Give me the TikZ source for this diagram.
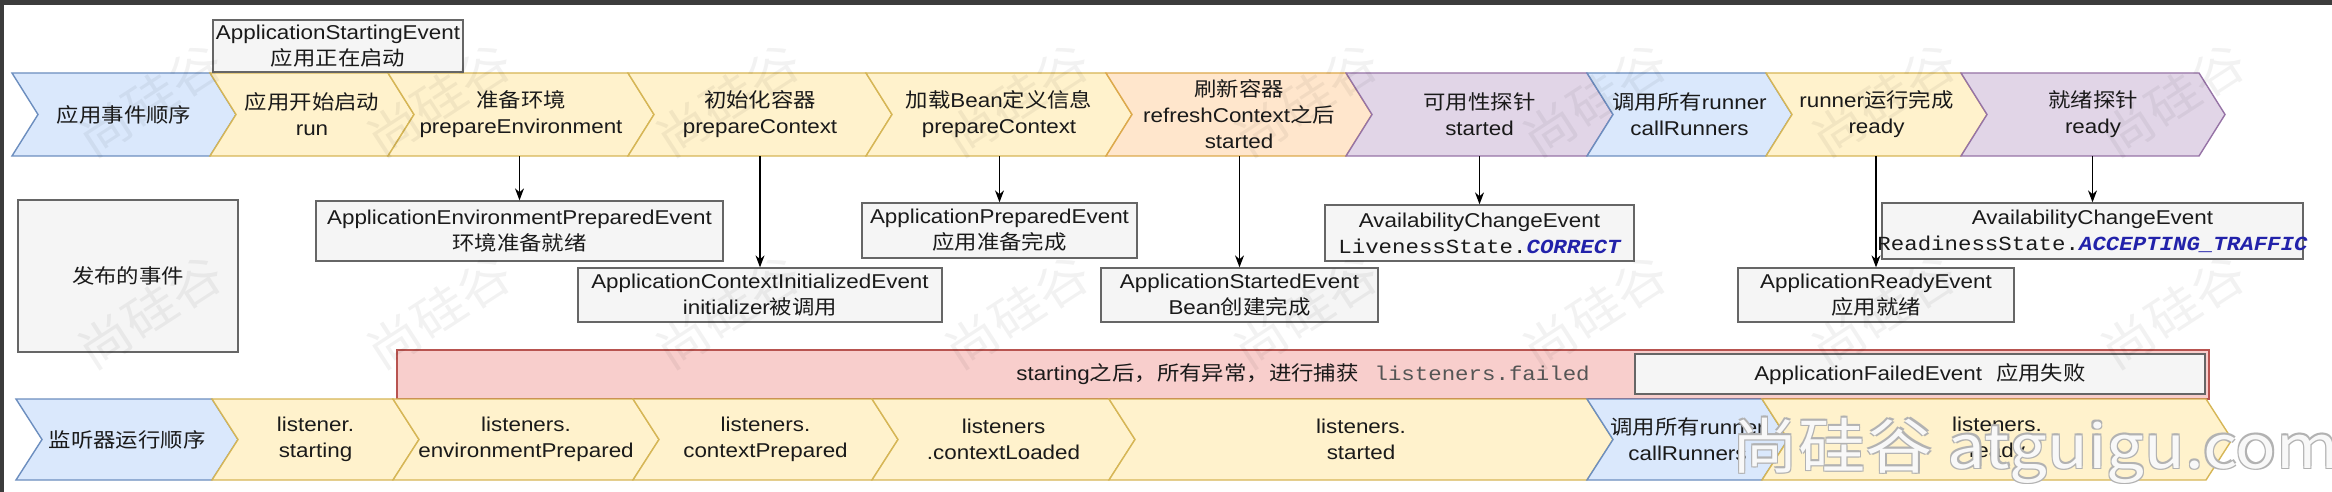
\documentclass[tikz,border=0pt]{standalone}
\usepackage{fontspec}
\setmainfont[FakeStretch=1.12]{Liberation Sans}
\setmonofont[FakeStretch=1.12]{Liberation Mono}
\newfontfamily\cjk[FakeStretch=1.12]{Noto Sans CJK SC}
\newcommand\zh[1]{{\cjk #1}}
\usetikzlibrary{arrows.meta}

\definecolor{bluef}{HTML}{DAE8FC}\definecolor{blues}{HTML}{6C8EBF}
\definecolor{yelf}{HTML}{FFF2CC}\definecolor{yels}{HTML}{D6B656}
\definecolor{orf}{HTML}{FFE6CC}\definecolor{ors}{HTML}{DDA94C}
\definecolor{purf}{HTML}{E1D5E7}\definecolor{purs}{HTML}{9673A6}
\definecolor{boxf}{HTML}{F5F5F5}\definecolor{boxs}{HTML}{666666}
\definecolor{redf}{HTML}{F8CECC}\definecolor{reds}{HTML}{B85450}
\definecolor{constblue}{HTML}{2222AA}
\definecolor{monogray}{HTML}{555555}
\definecolor{txt}{HTML}{1A1A1A}
\definecolor{frame}{HTML}{3C3C3C}

\def\chevdepth{26}
% #1 name, #2 left x, #3 top-right x, #4 top y, #5 bottom y, #6 fill, #7 stroke, #8 text
\newcommand\chevron[8]{%
  \draw[chev, fill=#6, draw=#7] (#2,#4) -- (#3,#4) -- ({#3+\chevdepth},{(#4+#5)/2}) -- (#3,#5) -- (#2,#5) -- ({#2+\chevdepth},{(#4+#5)/2}) -- cycle;
  \node[chevtext, minimum height={#5-#4}] (#1) at ({(#2+#3+\chevdepth)/2},{(#4+#5)/2}) {#8};
}

\tikzset{
  chev/.style={line width=1.4pt, line join=miter},
  chevtext/.style={inner sep=0pt, align=center, text=txt},
  evbox/.style={draw=boxs, fill=boxf, line width=1.3pt, inner sep=0pt, align=center, text=txt},
  redbox/.style={draw=reds, fill=redf, line width=1.3pt, inner sep=0pt, align=center, text=txt},
  arr/.style={-{Stealth[length=12pt,width=9pt]}, line width=1.2pt, draw=black},
  wmsmall/.style={text=black, opacity=0.05, inner sep=0pt, font=\cjk\fontsize{48}{50}\selectfont, rotate=33},
  wmbig/.style={inner sep=0pt, anchor=base, font=\cjk\fontsize{60}{64}\selectfont},
}

\begin{document}
\begin{tikzpicture}[x=1pt, y=-1pt, font=\fontsize{20}{26}\selectfont]
\useasboundingbox (0,0) rectangle (2332,492);
\fill[white] (0,0) rectangle (2332,492);
\fill[frame] (0,0) rectangle (2332,5);
\fill[frame] (0,0) rectangle (4,492);

% top row: application events order
\chevron{t1}{12}{210}{73}{156}{bluef}{blues}{\zh{应用事件顺序}}
\chevron{t2}{210}{388}{73}{156}{yelf}{yels}{\zh{应用开始启动}\\run}
\chevron{t3}{388}{628}{73}{156}{yelf}{yels}{\zh{准备环境}\\prepareEnvironment}
\chevron{t4}{628}{866}{73}{156}{yelf}{yels}{\zh{初始化容器}\\prepareContext}
\chevron{t5}{866}{1106}{73}{156}{yelf}{yels}{\zh{加载}Bean\zh{定义信息}\\prepareContext}
\chevron{t6}{1106}{1346}{73}{156}{orf}{ors}{\zh{刷新容器}\\refreshContext\zh{之后}\\started}
\chevron{t7}{1346}{1587}{73}{156}{purf}{purs}{\zh{可用性探针}\\started}
\chevron{t8}{1587}{1766}{73}{156}{bluef}{blues}{\zh{调用所有}runner\\callRunners}
\chevron{t9}{1766}{1961}{73}{156}{yelf}{yels}{runner\zh{运行完成}\\ready}
\chevron{t10}{1961}{2199}{73}{156}{purf}{purs}{\zh{就绪探针}\\ready}

% starting event above
\node[evbox, minimum width=250, minimum height=52] (ase) at (338,46) {ApplicationStartingEvent\\\zh{应用正在启动}};

% published events
\node[evbox, minimum width=220, minimum height=152] (evlabel) at (128,276) {\zh{发布的事件}};
\node[evbox, minimum width=407, minimum height=60] (aep) at (519.5,231) {ApplicationEnvironmentPreparedEvent\\\zh{环境准备就绪}};
\node[evbox, minimum width=364, minimum height=54] (aci) at (760,295) {ApplicationContextInitializedEvent\\initializer\zh{被调用}};
\node[evbox, minimum width=275, minimum height=55] (ape) at (999.5,230.5) {ApplicationPreparedEvent\\\zh{应用准备完成}};
\node[evbox, minimum width=277, minimum height=54] (ast) at (1239.5,295) {ApplicationStartedEvent\\Bean\zh{创建完成}};
\node[evbox, minimum width=309, minimum height=56] (acel) at (1479.5,233) {AvailabilityChangeEvent\\{\ttfamily LivenessState.{\color{constblue}\bfseries\itshape CORRECT}}};
\node[evbox, minimum width=276, minimum height=54] (are) at (1876,295) {ApplicationReadyEvent\\\zh{应用就绪}};
\node[evbox, minimum width=421, minimum height=56] (acer) at (2092.5,231) {};
\node[chevtext] (acertext) at (acer.center) {AvailabilityChangeEvent\\{\ttfamily ReadinessState.{\color{constblue}\bfseries\itshape ACCEPTING\_TRAFFIC}}};

% connectors
\draw[arr] (t3.south -| aep.north) -- (aep.north);
\draw[arr] (t4.south -| aci.north) -- (aci.north);
\draw[arr] (t5.south -| ape.north) -- (ape.north);
\draw[arr] (t6.south -| ast.north) -- (ast.north);
\draw[arr] (t7.south -| acel.north) -- (acel.north);
\draw[arr] (t9.south -| are.north) -- (are.north);
\draw[arr] (t10.south -| acer.north) -- (acer.north);

% failure band
\node[redbox, minimum width=1812, minimum height=49] (fail) at (1303,374.5) {starting\zh{之后，所有异常，进行捕获}\hspace{16pt}{\ttfamily\color{monogray}listeners.failed}};
\node[evbox, minimum width=570, minimum height=40] (afe) at (1920,374) {ApplicationFailedEvent\hspace{14pt}\zh{应用失败}};

% bottom row: listener order
\chevron{b1}{16}{212}{399}{480}{bluef}{blues}{\zh{监听器运行顺序}}
\chevron{b2}{212}{393}{399}{480}{yelf}{yels}{listener.\\starting}
\chevron{b3}{393}{633}{399}{480}{yelf}{yels}{listeners.\\environmentPrepared}
\chevron{b4}{633}{872}{399}{480}{yelf}{yels}{listeners.\\contextPrepared}
\chevron{b5}{872}{1109}{399}{480}{yelf}{yels}{listeners\\.contextLoaded}
\chevron{b6}{1109}{1587}{399}{480}{yelf}{yels}{listeners.\\started}
\chevron{b7}{1587}{1762}{399}{480}{bluef}{blues}{\zh{调用所有}runner\\callRunners}
\chevron{b8}{1762}{2206}{399}{480}{yelf}{yels}{listeners.\\ready}

% faint diagonal watermarks (translucent, on top)
\foreach \i in {0,...,7}{
  \node[wmsmall] (wma\i) at ({150+289*\i},100) {尚硅谷};
  \node[wmsmall] (wmb\i) at ({150+289*\i},312) {尚硅谷};
}

% large watermark (white with grey outline)
\foreach \dx/\dy [count=\k] in {-1.3/-1.3,1.3/1.3,-1.3/1.3,1.3/-1.3}{
  \node[wmbig, text=black!30] (wmo\k) at ({2035+\dx},{468+\dy}) {尚硅谷 atguigu.com};
}
\node[wmbig, text=white, opacity=0.92] (wmbig) at (2035,468) {尚硅谷 atguigu.com};
\end{tikzpicture}
\end{document}
